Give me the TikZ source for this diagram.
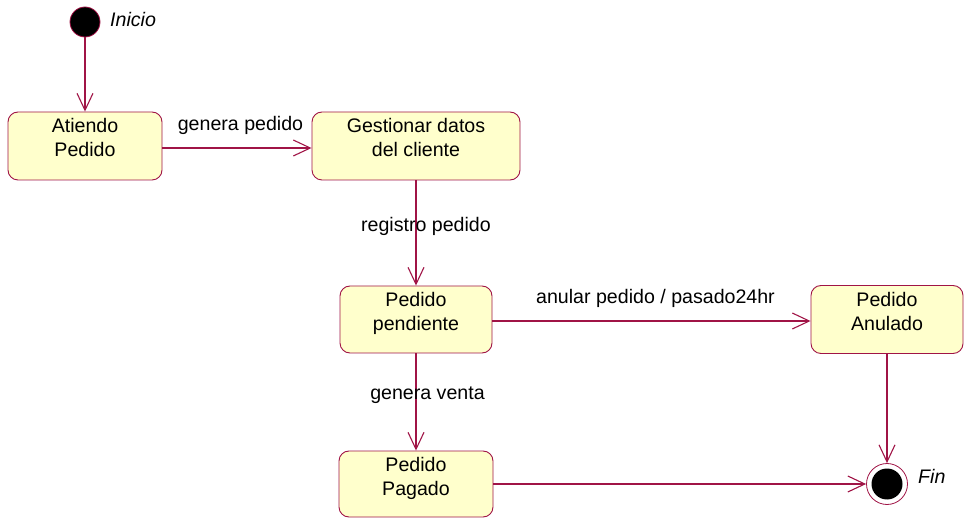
\documentclass[tikz,border=0pt]{standalone}
\usepackage{fontspec}
\setmainfont{Liberation Sans}
\usetikzlibrary{arrows.meta}
\definecolor{edgered}{RGB}{160,20,70}
\definecolor{statefill}{RGB}{255,255,204}
\begin{document}
\begin{tikzpicture}[x=1pt,y=-1pt,
  statebox/.style={draw=edgered, fill=statefill, rounded corners=10pt, line width=0.9pt,
    minimum width=152pt, minimum height=68pt, inner sep=0pt},
  txt/.style={font=\fontsize{19.6}{24}\selectfont, anchor=base, inner sep=0pt},
  itxt/.style={font=\fontsize{19.6}{24}\selectfont\itshape, anchor=base west, inner sep=0pt},
  trans/.style={draw=edgered, line width=1.1pt, -{Straight Barb[length=17pt,width=16pt,line width=1.1pt]}},
]
\useasboundingbox (0,0) rectangle (964,518);

% states
\node[statebox, minimum width=154pt] (atiendo) at (85,146) {};
\node[statebox, minimum width=208pt] (gestionar) at (416,146) {};
\node[statebox, minimum height=67pt] (pendiente) at (416,319.5) {};
\node[statebox] (anulado) at (887,319.5) {};
\node[statebox, minimum width=154pt, minimum height=66pt] (pagado) at (416,484) {};

% pseudo states
\node[circle, draw=edgered, line width=0.8pt, fill=black, minimum size=30pt, inner sep=0pt] (init) at (85,22) {};
\node[circle, draw=edgered, line width=0.8pt, fill=white, minimum size=41pt, inner sep=0pt] (fin) at (887,484) {};
\node[circle, fill=black, minimum size=31pt, inner sep=0pt] (fininner) at (fin.center) {};

% state texts
\node[txt] (atiendo1) at ([yshift=-21pt]atiendo.north) {Atiendo};
\node[txt] (atiendo2) at ([yshift=-45pt]atiendo.north) {Pedido};
\node[txt] (gest1) at ([yshift=-21pt]gestionar.north) {Gestionar datos};
\node[txt] (gest2) at ([yshift=-45pt]gestionar.north) {del cliente};
\node[txt] (pend1) at ([yshift=-21pt]pendiente.north) {Pedido};
\node[txt] (pend2) at ([yshift=-45pt]pendiente.north) {pendiente};
\node[txt] (anul1) at ([yshift=-21pt]anulado.north) {Pedido};
\node[txt] (anul2) at ([yshift=-45pt]anulado.north) {Anulado};
\node[txt] (pag1) at ([yshift=-21pt]pagado.north) {Pedido};
\node[txt] (pag2) at ([yshift=-45pt]pagado.north) {Pagado};

% transitions
\draw[trans] (init) -- (atiendo);
\draw[trans] ([yshift=-2pt]atiendo.east) -- ([yshift=-2pt]gestionar.west);
\draw[trans] (gestionar) -- (pendiente);
\draw[trans] ([yshift=-1.5pt]pendiente.east) -- ([yshift=-1.5pt]anulado.west);
\draw[trans] (pendiente) -- (pagado);
\draw[trans] (anulado.south) -- (fin.north);
\draw[trans] (pagado.east) -- (fin.west);

% labels
\node[itxt] (inicio) at (110,27) {Inicio};
\node[itxt] (finlbl) at (918,483) {Fin};
\node[txt] (l1) at (240.5,131) {genera pedido};
\node[txt] (l2) at (426,231.5) {registro pedido};
\node[txt] (l3) at (655.5,303.5) {anular pedido / pasado24hr};
\node[txt] (l4) at (427.5,399.5) {genera venta};
\end{tikzpicture}
\end{document}
